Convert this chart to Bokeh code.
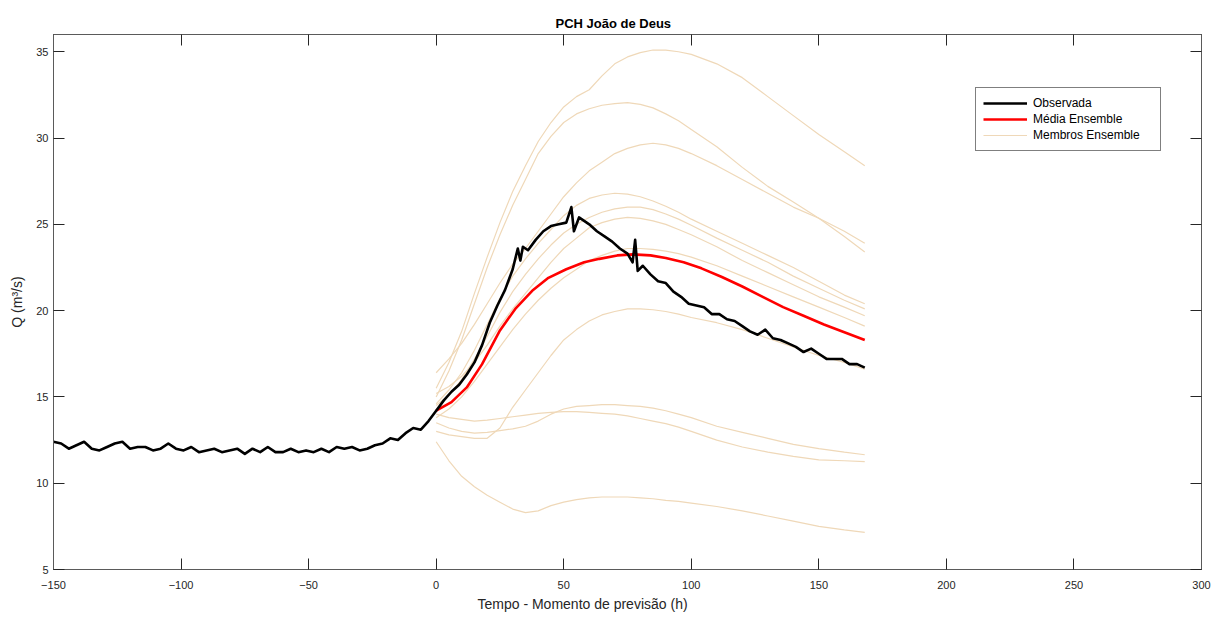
from bokeh.plotting import figure
from bokeh.models import (Range1d, LinearAxis, FixedTicker, Legend, LegendItem, Title)
from bokeh.embed import file_html
from bokeh.resources import INLINE

# ---------------- data ----------------
obs_t = [-150, -147, -144, -141, -138, -135, -132, -129, -126, -123, -120, -117, -114, -111,
         -108, -105, -102, -99, -96, -93, -90, -87, -84, -81, -78, -75, -72, -69, -66, -63,
         -60, -57, -54, -51, -48, -45, -42, -39, -36, -33, -30, -27, -24, -21, -18, -15, -12,
         -9, -6, -3, 0, 3, 6, 9, 12, 15, 18, 21, 24, 27, 30, 32, 33, 34, 36, 39, 42, 45, 48,
         51, 53, 54, 56, 60, 63, 66, 69, 72, 75, 77, 78, 79, 81, 84, 87, 90, 93, 96, 99, 102,
         105, 108, 111, 114, 117, 120, 123, 126, 129, 132, 135, 138, 141, 144, 147, 150, 153,
         156, 159, 162, 165, 168]
obs_q = [12.4, 12.3, 12.0, 12.2, 12.4, 12.0, 11.9, 12.1, 12.3, 12.4, 12.0, 12.1, 12.1, 11.9,
         12.0, 12.3, 12.0, 11.9, 12.1, 11.8, 11.9, 12.0, 11.8, 11.9, 12.0, 11.7, 12.0, 11.8,
         12.1, 11.8, 11.8, 12.0, 11.8, 11.9, 11.8, 12.0, 11.8, 12.1, 12.0, 12.1, 11.9, 12.0,
         12.2, 12.3, 12.6, 12.5, 12.9, 13.2, 13.1, 13.6, 14.2, 14.8, 15.3, 15.7, 16.3, 17.0,
         18.0, 19.3, 20.3, 21.2, 22.4, 23.6, 22.9, 23.7, 23.5, 24.1, 24.6, 24.9, 25.0, 25.1,
         26.0, 24.6, 25.4, 25.0, 24.6, 24.3, 24.0, 23.6, 23.3, 22.8, 24.1, 22.3, 22.6, 22.1,
         21.7, 21.6, 21.1, 20.8, 20.4, 20.3, 20.2, 19.8, 19.8, 19.5, 19.4, 19.1, 18.8, 18.6,
         18.9, 18.4, 18.3, 18.1, 17.9, 17.6, 17.8, 17.5, 17.2, 17.2, 17.2, 16.9, 16.9, 16.7]

mean_t = [0, 6, 12, 18, 25, 31, 38, 44, 51, 58, 64, 71, 77, 84, 90, 97, 104, 112, 120, 128,
          136, 144, 152, 160, 168]
mean_q = [14.2, 14.7, 15.55, 16.9, 18.85, 20.1, 21.2, 21.9, 22.4, 22.8, 23.0, 23.2, 23.26,
          23.2, 23.05, 22.8, 22.45, 21.95, 21.4, 20.8, 20.2, 19.7, 19.2, 18.75, 18.3]

ens_t = [0, 5, 10, 15, 20, 25, 30, 35, 40, 45, 50, 55, 60, 65, 70, 75, 80, 85, 90, 95, 100,
         110, 120, 130, 140, 150, 160, 168]
m1 = [15.5, 17.0, 18.8, 21.0, 23.1, 25.1, 26.9, 28.4, 29.8, 30.9, 31.8, 32.4, 32.8, 33.6, 34.3,
      34.7, 34.95, 35.1, 35.1, 35.0, 34.85, 34.3, 33.5, 32.4, 31.3, 30.2, 29.2, 28.4]
m2 = [15.0, 16.5, 18.3, 20.4, 22.5, 24.4, 26.1, 27.6, 29.1, 30.1, 30.9, 31.4, 31.7, 31.9, 32.0,
      32.05, 31.95, 31.75, 31.4, 31.0, 30.5, 29.5, 28.3, 27.2, 26.3, 25.35, 24.3, 23.4]
m3 = [16.4, 17.2, 18.1, 19.2, 20.4, 21.6, 22.7, 23.6, 24.6, 25.6, 26.6, 27.4, 28.1, 28.6, 29.1,
      29.4, 29.6, 29.7, 29.6, 29.4, 29.1, 28.4, 27.6, 26.8, 26.0, 25.35, 24.6, 23.9]
m4 = [14.6, 15.4, 16.4, 17.7, 19.2, 20.7, 22.0, 23.0, 23.9, 24.7, 25.5, 26.1, 26.5, 26.7, 26.8,
      26.75, 26.6, 26.35, 26.05, 25.7, 25.3, 24.6, 23.9, 23.2, 22.5, 21.7, 20.9, 20.4]
m5 = [14.5, 15.1, 16.0, 17.2, 18.5, 19.9, 21.1, 22.1, 23.0, 23.8, 24.5, 25.0, 25.4, 25.7, 25.9,
      26.0, 26.0, 25.85, 25.6, 25.3, 24.95, 24.2, 23.5, 22.8, 22.0, 21.3, 20.6, 20.1]
m6 = [15.2, 15.6, 16.2, 17.0, 18.0, 19.1, 20.1, 21.0, 21.9, 22.8, 23.6, 24.2, 24.8, 25.1, 25.3,
      25.4, 25.35, 25.2, 25.0, 24.7, 24.4, 23.7, 22.9, 22.2, 21.5, 20.8, 20.2, 19.7]
m7 = [13.8, 14.3, 15.0, 15.9, 16.9, 17.9, 18.9, 19.8, 20.6, 21.3, 21.9, 22.4, 22.9, 23.2, 23.45,
      23.6, 23.6, 23.55, 23.45, 23.3, 23.1, 22.6, 22.0, 21.4, 20.8, 20.2, 19.6, 19.1]
m8 = [13.0, 12.8, 12.7, 12.6, 12.6, 13.2, 14.4, 15.4, 16.4, 17.4, 18.3, 18.9, 19.4, 19.75, 19.95,
      20.1, 20.1, 20.05, 19.95, 19.8, 19.6, 19.3, 18.9, 18.4, 17.9, 17.4, 17.0, 16.6]
m9 = [14.0, 13.8, 13.7, 13.6, 13.65, 13.75, 13.85, 13.95, 14.05, 14.1, 14.15, 14.15, 14.1, 14.05,
      14.0, 13.9, 13.75, 13.6, 13.45, 13.25, 13.0, 12.5, 12.1, 11.8, 11.55, 11.35, 11.3, 11.25]
m10 = [13.5, 13.2, 13.0, 12.9, 12.95, 13.05, 13.15, 13.3, 13.6, 14.0, 14.3, 14.45, 14.5, 14.55,
       14.55, 14.5, 14.45, 14.35, 14.2, 14.0, 13.8, 13.3, 12.95, 12.6, 12.25, 12.0, 11.8, 11.65]
m11 = [12.4, 11.3, 10.4, 9.8, 9.3, 8.9, 8.5, 8.3, 8.4, 8.7, 8.9, 9.05, 9.15, 9.2, 9.2, 9.2,
       9.15, 9.1, 9.0, 8.95, 8.85, 8.65, 8.4, 8.1, 7.8, 7.5, 7.3, 7.15]
members = [m1, m2, m3, m4, m5, m6, m7, m8, m9, m10, m11]

x_ticks = [-150, -100, -50, 0, 50, 100, 150, 200, 250, 300]
y_ticks = [5, 10, 15, 20, 25, 30, 35]

title_text = "PCH João de Deus"
x_label = "Tempo - Momento de previsão (h)"
y_label = "Q (m³/s)"
labels = ["Observada", "Média Ensemble", "Membros Ensemble"]

# ---------------- figure ----------------
FONT = "Liberation Sans"
AX = "#262626"
BOX = "#5a5a5a"

p = figure(frame_width=1148, frame_height=535,
           x_range=Range1d(-150, 300), y_range=Range1d(5, 36),
           output_backend="svg", toolbar_location=None,
           min_border_left=53, min_border_right=24, min_border_top=34, min_border_bottom=48,
           y_axis_label=y_label)
p.title = Title(text=title_text, align="left", offset=502)
p.title.text_font = FONT
p.title.text_font_size = "13px"
p.title.text_font_style = "bold"
p.title.text_color = "#000000"
p.title.standoff = 8

p.xgrid.visible = False
p.ygrid.visible = False
p.outline_line_color = BOX
p.outline_line_width = 1
p.background_fill_color = "white"
p.border_fill_color = "white"

for ax, ticks in ((p.xaxis[0], x_ticks), (p.yaxis[0], y_ticks)):
    ax.ticker = FixedTicker(ticks=ticks)
    ax.minor_tick_line_color = None
    ax.major_tick_in = 11
    ax.major_tick_out = 0
    ax.major_tick_line_color = AX
    ax.axis_line_color = BOX
    ax.major_label_text_font = FONT
    ax.major_label_text_font_size = "11px"
    ax.major_label_text_color = AX
    ax.axis_label_text_font = FONT
    ax.axis_label_text_font_size = "14px"
    ax.axis_label_text_font_style = "normal"
    ax.axis_label_text_color = AX

p.xaxis[0].major_label_standoff = 11
p.yaxis[0].major_label_standoff = 5
p.yaxis[0].axis_label_standoff = 8

xlab = Title(text=x_label, align="left", offset=424, text_font=FONT,
             text_font_size="14px", text_font_style="normal", text_color=AX, standoff=5)
p.add_layout(xlab, "below")

for loc, ticks in (("above", x_ticks), ("right", y_ticks)):
    a = LinearAxis(ticker=FixedTicker(ticks=ticks))
    a.minor_tick_line_color = None
    a.major_tick_in = 11
    a.major_tick_out = 0
    a.major_tick_line_color = AX
    a.axis_line_color = BOX
    a.major_label_text_font_size = "1px"
    a.major_label_text_color = None
    a.major_label_standoff = 0
    p.add_layout(a, loc)

# ---------------- glyphs ----------------
MEMBER_COLOR = "#EFD8B8"
mem_renderers = []
for m in members:
    r = p.line(ens_t, m, line_color=MEMBER_COLOR, line_width=1.2)
    mem_renderers.append(r)

mean_r = p.line(mean_t, mean_q, line_color="#FF0000", line_width=2.6)
obs_r = p.line(obs_t, obs_q, line_color="#000000", line_width=2.6, line_join="round")

legend = Legend(items=[LegendItem(label=labels[0], renderers=[obs_r]),
                       LegendItem(label=labels[1], renderers=[mean_r]),
                       LegendItem(label=labels[2], renderers=[mem_renderers[0]])],
                location=(922, 418))
legend.border_line_color = "#000000"
legend.border_line_width = 1
legend.background_fill_color = "white"
legend.background_fill_alpha = 1
legend.label_text_font = FONT
legend.label_text_font_size = "12px"
legend.label_text_color = "#000000"
legend.glyph_width = 44
legend.glyph_height = 16
legend.label_height = 16
legend.label_width = 120
legend.label_standoff = 6
legend.spacing = 0
legend.padding = 7
legend.margin = 0
p.add_layout(legend)

open("out.html", "w").write(file_html(p, INLINE))
